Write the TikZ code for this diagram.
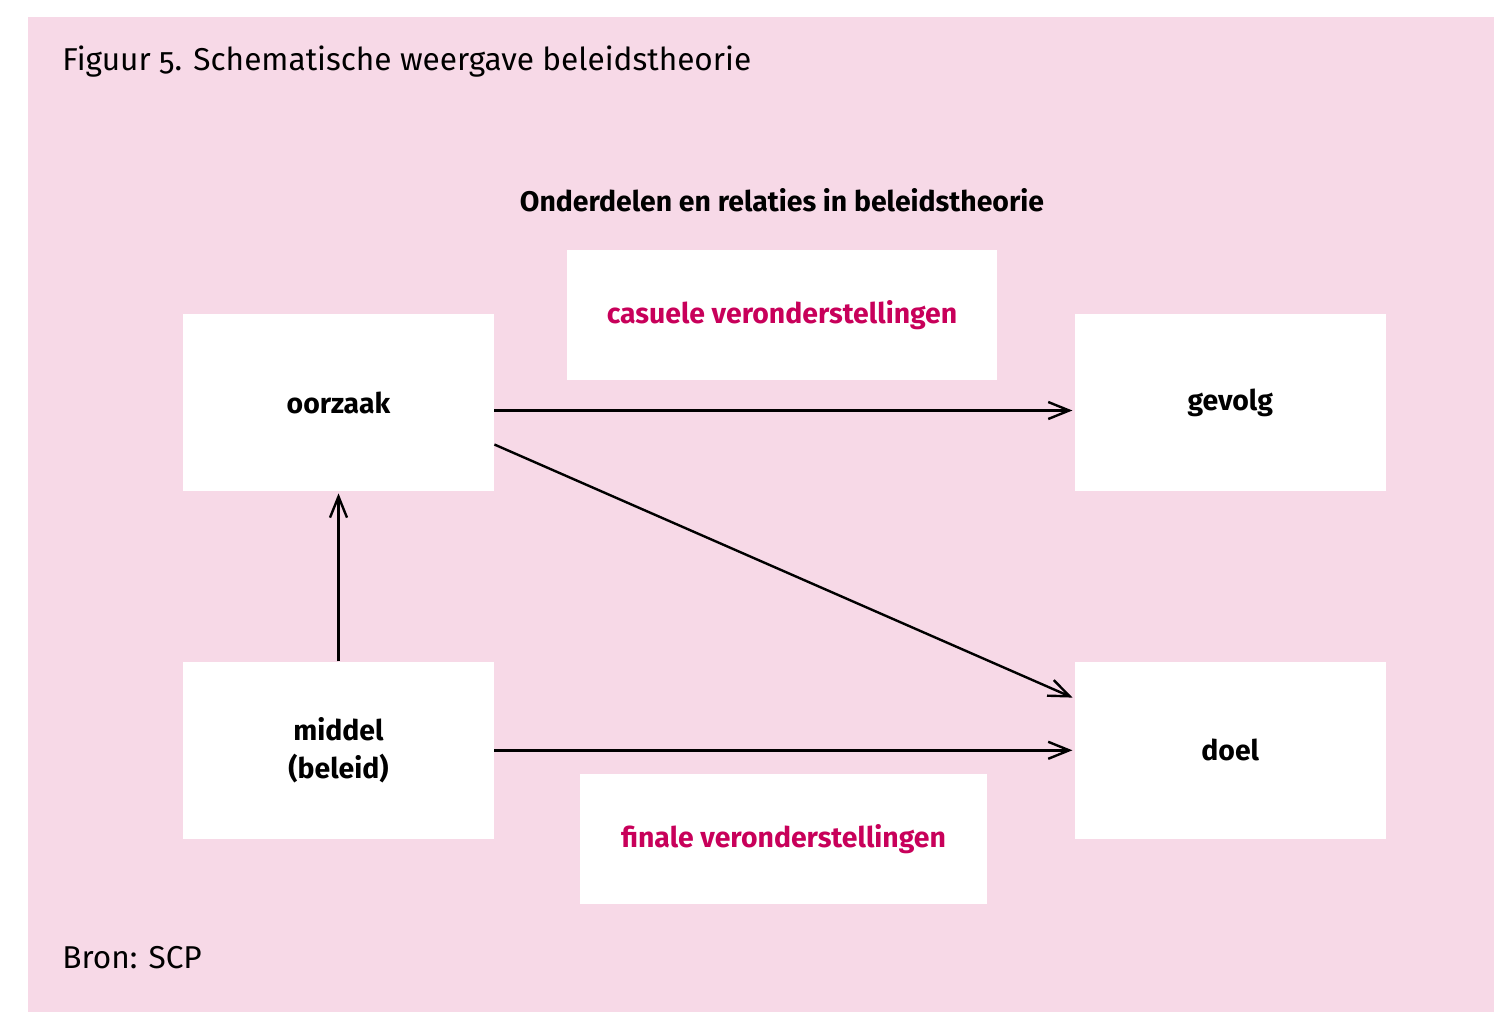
\documentclass[tikz,border=0pt]{standalone}
\usepackage{fontspec}
\setmainfont{Fira Sans}[Numbers=OldStyle]
\usetikzlibrary{arrows.meta,positioning}

\definecolor{scppink}{HTML}{F7D9E7}
\definecolor{scpred}{HTML}{C8005A}

\begin{document}
\begin{tikzpicture}[
		x=0.5pt, y=-0.5pt,
		box/.style={fill=white, minimum width=155.5pt, minimum height=88.5pt, font=\fontsize{14.2}{19}\selectfont\bfseries, align=center, inner sep=0pt},
		note/.style={box, text=scpred, minimum height=65pt},
		link/.style={-{Straight Barb[length=10.5pt, width=8.5pt]}, line width=1.2pt, shorten >=1pt},
	]
		\useasboundingbox (0,0) rectangle (1494,1012);
		\fill[scppink] (28,17) rectangle (1494,1012);
		
		\node (fig) [anchor=west, inner sep=0pt, font=\fontsize{15.8}{18}\selectfont] at (62,62) {Figuur 5. Schematische weergave beleidstheorie};
		\node (head) [font=\fontsize{14.2}{17}\selectfont\bfseries] at (782,200) {Onderdelen en relaties in beleidstheorie};
		\node (bron) [anchor=west, inner sep=0pt, font=\fontsize{15.8}{18}\selectfont] at (62,958) {Bron: SCP};
		
		\node (oorzaak) [box] at (338.5,402.5) {oorzaak};
		\node (gevolg) [box, right=290pt of oorzaak] {gevolg};
		\node (middel) [box, below=85pt of oorzaak] {middel\\(beleid)};
		\node (doel) [box, below=85pt of gevolg] {doel};
		
		\node (causaal) [note, minimum width=215pt] at (782,315) {casuele veronderstellingen};
		\node (finaal) [note, minimum width=203.5pt] at (783.5,839) {finale veronderstellingen};
		
		\draw[link] ([yshift=-4pt]oorzaak.east) -- ([yshift=-4pt]gevolg.west);
		\draw[link] ([yshift=-21pt]oorzaak.east) -- ([yshift=-18.5pt]doel.north west);
		\draw[link] (middel.east) -- (doel.west);
		\draw[link] (middel.north) -- (oorzaak.south);
	\end{tikzpicture}
\end{document}
